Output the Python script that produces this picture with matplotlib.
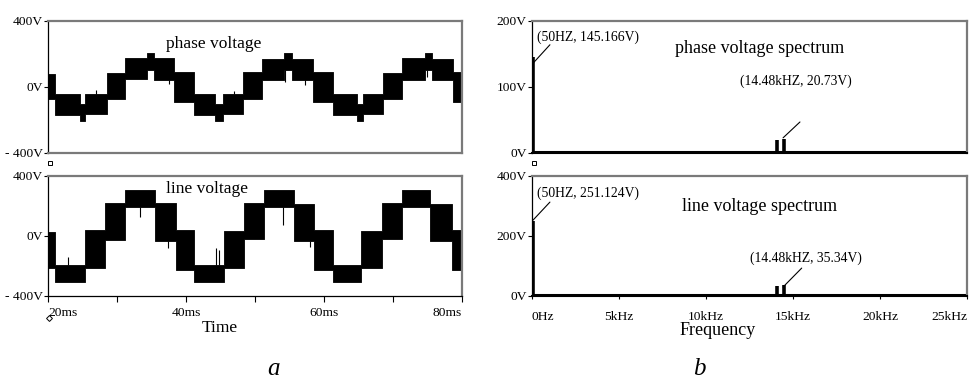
import numpy as np
import matplotlib.pyplot as plt
from matplotlib.lines import Line2D

plt.rcParams['font.family'] = ['Liberation Serif', 'DejaVu Serif']

# ---- data ----
# phase voltage: PWM band per step segment (start time ms, band low / high V)
phase_t = [20.0, 21.0, 24.6, 25.4, 28.5, 31.2, 34.3, 35.3, 38.3, 41.2, 44.2, 45.3, 48.3,
           51.0, 54.2, 55.3, 58.4, 61.3, 64.8, 65.7, 68.6, 71.3, 74.6, 75.6, 78.7, 80.0]
phase_lo = [-75, -170, -205, -165, -70, 50, 105, 45, -90, -170, -205, -165, -70,
            45, 105, 45, -90, -170, -205, -165, -70, 45, 105, 45, -90, -90]
phase_hi = [80, -45, -105, -40, 85, 175, 205, 175, 92, -45, -105, -40, 88,
            170, 205, 172, 92, -45, -105, -40, 85, 175, 205, 172, 90, 90]
phase_spike_t = [27.0, 37.6, 47.0, 54.4, 57.3, 74.9]
phase_spike_v = [-20, 20, -25, 30, 10, 60]

# line voltage
line_t = [20.0, 21.0, 25.4, 28.3, 31.2, 35.5, 38.5, 41.1, 45.5, 48.4, 51.3, 55.6, 58.6,
          61.3, 65.4, 68.4, 71.3, 75.4, 78.5, 80.0]
line_lo = [-210, -305, -215, -25, 193, -30, -225, -305, -215, -20, 193, -30, -225,
           -305, -215, -20, 193, -30, -225, -225]
line_hi = [25, -195, 38, 218, 305, 218, 40, -195, 35, 218, 305, 215, 40,
           -195, 35, 218, 305, 215, 40, 40]
line_spike_t = [22.9, 33.3, 37.4, 44.3, 44.8, 54.1, 58.0]
line_spike_v = [-140, 125, -80, -80, -90, 75, -70]

# spectra (kHz, V)
phase_f = [0.05, 4.75, 14.08, 14.48]
phase_amp = [145.166, 3.0, 20.0, 20.73]
phase_floor = 1.5
line_f = [0.05, 4.75, 14.08, 14.48]
line_amp = [251.124, 5.0, 33.0, 35.34]
line_floor = 2.5

W, H = 970, 381


def box(x0, y0, x1, y1):
    return [x0 / W, 1 - y1 / H, (x1 - x0) / W, (y1 - y0) / H]


def style(ax, bottom_grey=False):
    for s in ['top', 'right']:
        ax.spines[s].set_color('#7a7a7a')
        ax.spines[s].set_linewidth(1.6)
    ax.spines['left'].set_color('black')
    ax.spines['left'].set_linewidth(0.9)
    ax.spines['bottom'].set_color('#7a7a7a' if bottom_grey else 'black')
    ax.spines['bottom'].set_linewidth(1.6 if bottom_grey else 0.9)
    ax.tick_params(direction='out', length=3, width=0.8, labelsize=9.7, pad=0.8)


def band(ax, t, lo, hi, st, sv):
    ax.fill_between(t, lo, hi, step='post', color='black', lw=0.6, edgecolor='black')
    idx = np.searchsorted(t, st, side='right') - 1
    base = [lo[i] if v < lo[i] else hi[i] for i, v in zip(idx, sv)]
    ax.vlines(st, base, sv, color='black', lw=0.8)


fig = plt.figure(figsize=(9.7, 3.81), dpi=100)
ax1 = fig.add_axes(box(48, 21, 462, 153))
ax2 = fig.add_axes(box(48, 176, 462, 296))
ax3 = fig.add_axes(box(532, 21, 967, 153))
ax4 = fig.add_axes(box(532, 176, 967, 296))

# phase voltage
band(ax1, phase_t, phase_lo, phase_hi, phase_spike_t, phase_spike_v)
ax1.set_xlim(20, 80)
ax1.set_ylim(-400, 400)
style(ax1, bottom_grey=True)
ax1.set_xticks([])
ax1.set_yticks([-400, 0, 400], ['- 400V', '0V', '400V'])
ax1.text(44.06, 261, 'phase voltage', ha='center', va='center', fontsize=12.5)

# line voltage
band(ax2, line_t, line_lo, line_hi, line_spike_t, line_spike_v)
ax2.set_xlim(20, 80)
ax2.set_ylim(-400, 400)
style(ax2)
ax2.set_yticks([-400, 0, 400], ['- 400V', '0V', '400V'])
ax2.set_xticks([20, 30, 40, 50, 60, 70, 80], ['20ms', '', '40ms', '', '60ms', '', '80ms'])
ax2.tick_params(axis='x', length=4, pad=4)
xl = ax2.get_xticklabels()
xl[0].set_ha('left')
xl[-1].set_ha('right')
ax2.text(43.0, 313, 'line voltage', ha='center', va='center', fontsize=12.5)

# phase spectrum
ax3.vlines(phase_f, 0, phase_amp, color='black', lw=2.6)
ax3.axhline(phase_floor, color='black', lw=2.2)
ax3.set_xlim(0, 25)
ax3.set_ylim(0, 200)
style(ax3)
ax3.spines['bottom'].set_linewidth(1.5)
ax3.set_xticks([])
ax3.set_yticks([0, 100, 200], ['0V', '100V', '200V'])
ax3.text(13.1, 158, 'phase voltage spectrum', ha='center', va='center', fontsize=13)
ax3.annotate('', xy=(0.06, 136), xytext=(1.03, 164),
             arrowprops=dict(arrowstyle='-', lw=0.8, shrinkA=0, shrinkB=0))
ax3.text(0.29, 176, '(50HZ, 145.166V)', ha='left', va='center', fontsize=9.8)
ax3.annotate('', xy=(14.43, 23), xytext=(15.4, 47),
             arrowprops=dict(arrowstyle='-', lw=0.8, shrinkA=0, shrinkB=0))
ax3.text(11.95, 109, '(14.48kHZ, 20.73V)', ha='left', va='center', fontsize=9.8)

# line spectrum
ax4.vlines(line_f, 0, line_amp, color='black', lw=2.6)
ax4.axhline(line_floor, color='black', lw=2.2)
ax4.set_xlim(0, 25)
ax4.set_ylim(0, 400)
style(ax4)
ax4.spines['bottom'].set_linewidth(1.5)
ax4.set_yticks([0, 200, 400], ['0V', '200V', '400V'])
ax4.set_xticks([0, 5, 10, 15, 20, 25], ['0Hz', '5kHz', '10kHz', '15kHz', '20kHz', '25kHz'])
ax4.tick_params(axis='x', length=2, pad=9)
xl = ax4.get_xticklabels()
xl[0].set_ha('left')
xl[-1].set_ha('right')
ax4.text(13.1, 297, 'line voltage spectrum', ha='center', va='center', fontsize=13)
ax4.annotate('', xy=(0.06, 253), xytext=(1.03, 313),
             arrowprops=dict(arrowstyle='-', lw=0.8, shrinkA=0, shrinkB=0))
ax4.text(0.29, 343, '(50HZ, 251.124V)', ha='left', va='center', fontsize=9.8)
ax4.annotate('', xy=(14.43, 30), xytext=(15.5, 93),
             arrowprops=dict(arrowstyle='-', lw=0.8, shrinkA=0, shrinkB=0))
ax4.text(12.53, 127, '(14.48kHZ, 35.34V)', ha='left', va='center', fontsize=9.8)

# axis titles and panel letters
fig.text(220 / W, 1 - 332 / H, 'Time', ha='center', va='baseline', fontsize=12.5)
fig.text(718 / W, 1 - 335 / H, 'Frequency', ha='center', va='baseline', fontsize=13)
fig.text(274 / W, 1 - 375 / H, 'a', ha='center', va='baseline', fontsize=18, style='italic')
fig.text(699 / W, 1 - 375 / H, 'b', ha='center', va='baseline', fontsize=18, style='italic')

# small markers left between panels in the original
for (mx, my, mk) in [(50, 163, 's'), (534, 163, 's'), (49, 318, 'D')]:
    fig.add_artist(Line2D([mx / W], [1 - my / H], marker=mk, ms=3, mfc='white',
                          mec='black', mew=0.7, transform=fig.transFigure))

fig.savefig('out.png', dpi=100)
